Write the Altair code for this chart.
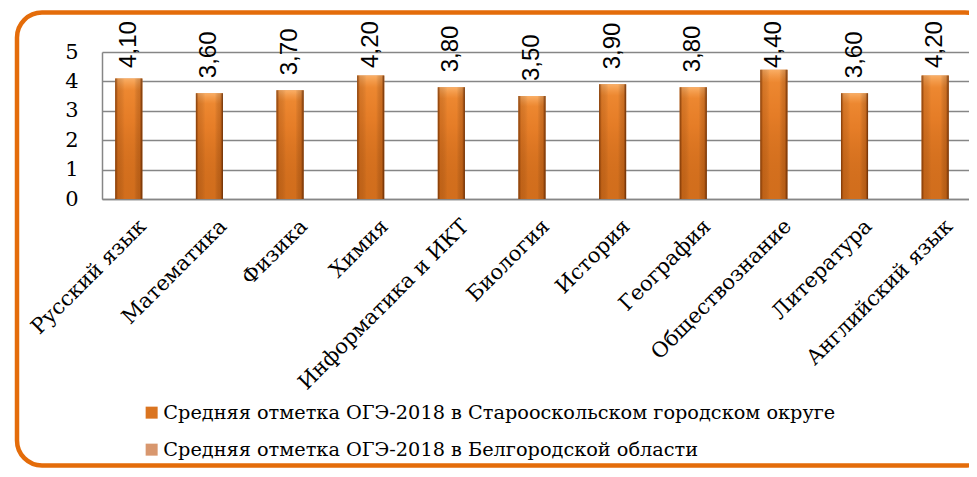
import altair as alt
import pandas as pd

subjects = ["Русский язык", "Математика", "Физика", "Химия", "Информатика и ИКТ",
            "Биология", "История", "География", "Обществознание", "Литература",
            "Английский язык"]
values = [4.10, 3.60, 3.70, 4.20, 3.80, 3.50, 3.90, 3.80, 4.40, 3.60, 4.20]
series = ["Средняя отметка ОГЭ-2018 в Старооскольском городском округе",
          "Средняя отметка ОГЭ-2018 в Белгородской области"]

df = pd.DataFrame({"subject": subjects, "v": values, "series": series[0]})

GRID = "#868686"
SERIF = "DejaVu Serif"
SANS = "Liberation Sans"

x_enc = alt.X("subject:N", sort=subjects,
              scale=alt.Scale(range=[0, 887], paddingInner=0, paddingOuter=0),
              axis=alt.Axis(title=None, labelAngle=-45, labelAlign="right",
                            labelBaseline="top", labelFont=SERIF, labelFontSize=21,
                            labelColor="black", labelPadding=16, labelOffset=-7,
                            ticks=False, domainColor=GRID, domainWidth=1.5, grid=False,
                            labelLimit=600, labelOverlap=False))
y_scale = alt.Scale(domain=[0, 5], nice=False)
y_axis = alt.Axis(title=None, values=[0, 1, 2, 3, 4, 5], labelFont=SERIF,
                  labelFontSize=21, labelColor="black", labelPadding=24,
                  labelOverlap=False, ticks=False, grid=True, gridColor=GRID,
                  gridWidth=1.5, domainColor=GRID, domainWidth=1.5)
y_enc = alt.Y("v:Q", scale=y_scale, axis=y_axis)
xo = alt.XOffset("series:N", scale=alt.Scale(domain=series, paddingInner=0, paddingOuter=0.49))
color = alt.Color("series:N",
                  scale=alt.Scale(domain=series, range=["#DA7420", "#D8976E"]),
                  legend=alt.Legend(title=None, orient="none", legendX=40, legendY=351,
                                    direction="vertical", symbolType="square",
                                    symbolSize=144, labelFont=SERIF, labelFontSize=19.3,
                                    labelColor="black", rowPadding=17, labelLimit=900,
                                    symbolStrokeWidth=0, labelOffset=2, padding=0))

base = alt.Chart(df)

bars = base.mark_bar().encode(x=x_enc, y=y_enc, xOffset=xo, color=color)

shade_v = base.mark_bar(color=alt.Gradient(
    gradient="linear", x1=0, x2=0, y1=0, y2=1,
    stops=[alt.GradientStop(color="rgba(255,185,115,0.85)", offset=0),
           alt.GradientStop(color="rgba(255,155,65,0.5)", offset=0.1),
           alt.GradientStop(color="rgba(255,145,55,0.3)", offset=0.35),
           alt.GradientStop(color="rgba(140,60,0,0.1)", offset=1)])
).encode(x=x_enc, y=y_enc, xOffset=xo)

shade_h = base.mark_bar(color=alt.Gradient(
    gradient="linear", x1=0, x2=1, y1=0, y2=0,
    stops=[alt.GradientStop(color="rgba(100,40,0,0.8)", offset=0),
           alt.GradientStop(color="rgba(120,50,0,0.2)", offset=0.1),
           alt.GradientStop(color="rgba(0,0,0,0)", offset=0.35),
           alt.GradientStop(color="rgba(0,0,0,0)", offset=0.7),
           alt.GradientStop(color="rgba(110,45,0,0.25)", offset=0.9),
           alt.GradientStop(color="rgba(80,30,0,0.85)", offset=1)])
).encode(x=x_enc, y=y_enc, xOffset=xo)

labels = base.transform_calculate(
    ly="min(datum.v + 0.51, 4.46)",
    lab="replace(format(datum.v, '.2f'), '.', ',')"
).mark_text(angle=270, align="left", baseline="middle", font=SANS,
            fontSize=24, color="black").encode(
    x=x_enc, xOffset=xo, y=alt.Y("ly:Q", scale=y_scale, axis=y_axis), text="lab:N")

border = alt.Chart(alt.Data(values=[{"k": 1}])).mark_rect(
    fillOpacity=0, stroke="#E46C0A", strokeWidth=4.5, cornerRadius=25
).encode(x=alt.value(-85), x2=alt.value(888), y=alt.value(-39.5), y2=alt.value(413.5))

chart = alt.layer(border, bars, shade_v, shade_h, labels).properties(
    width=867, height=147,
    padding={"left": 94, "top": 44, "right": 0, "bottom": 270},
    autosize=alt.AutoSizeParams(type="none"),
    background="white",
).configure_view(strokeWidth=0)

chart.save("out.html", embed_options={"renderer": "svg", "actions": False})
